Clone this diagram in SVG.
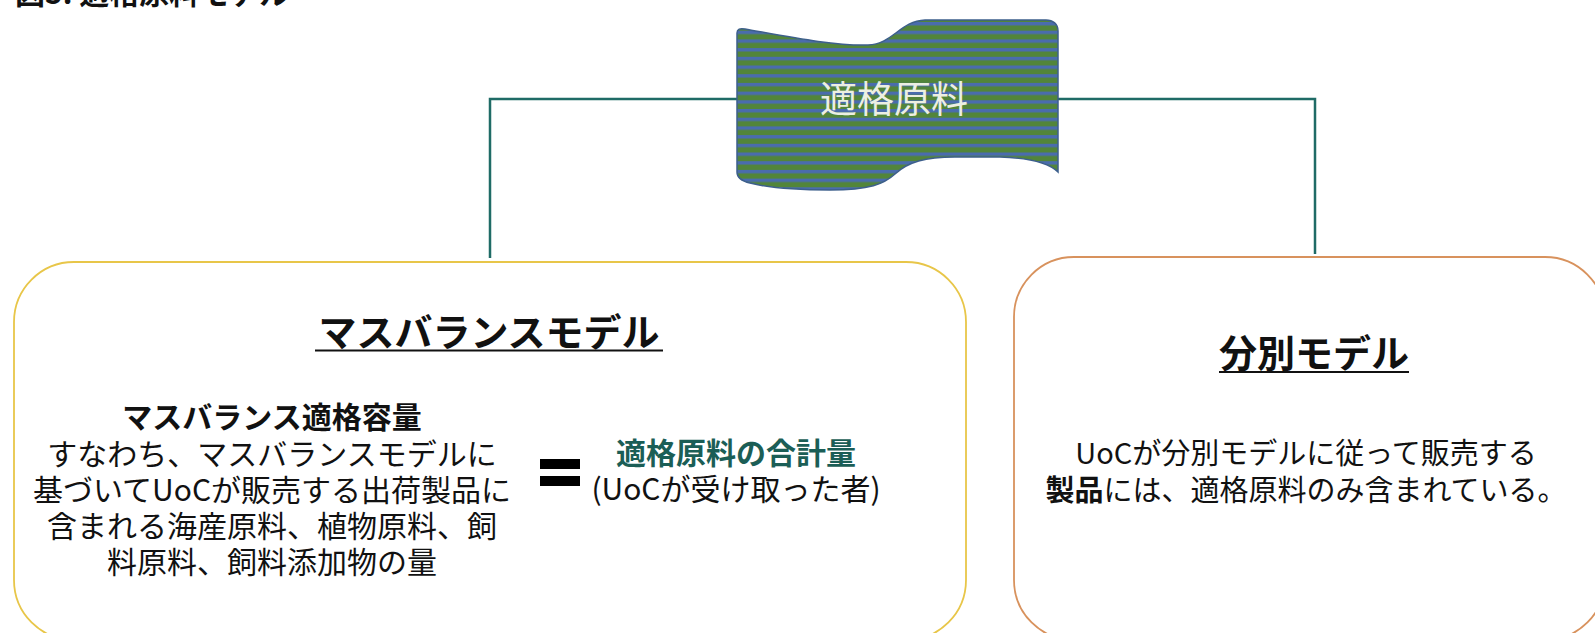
<svg xmlns="http://www.w3.org/2000/svg" width="1595" height="633" viewBox="0 0 1595 633">
<defs>
<pattern id="stripes" x="0" y="22" width="20" height="8.7" patternUnits="userSpaceOnUse">
<rect width="20" height="8.7" fill="#52853a"/>
<rect y="0" width="20" height="3.4" fill="#4a6cae"/>
</pattern>
<style>
text{font-family:"Noto Sans CJK JP","Noto Sans",sans-serif;}
.conn{fill:none;stroke:#1f6b66;stroke-width:2.5;}
.body{font-size:30px;fill:#111;text-anchor:middle;}
.head{font-size:38px;font-weight:bold;fill:#111;text-anchor:middle;}
.ul{stroke:#111;stroke-width:2;}
</style>
</defs>
<rect width="1595" height="633" fill="#fff"/>
<g id="figure-title">
<text x="15" y="4" font-size="30" font-weight="bold" fill="#111">図5: 適格原料モデル</text>
</g>
<g id="connectors">
<path class="conn" d="M737,99 H490 V258"/>
<path class="conn" d="M1058,99 H1315 V254"/>
</g>
<g id="eligible-material">
<path d="M737,33 C737,29 740,28 745,29 C790,37 835,46 868,45 C893,44 900,21 925,20 L1046,20 C1053,20 1058,24 1058,31 L1058,172 C1050,164 1035,158 1000,157 L955,157 C925,157 908,162 895,174 C884,184 870,190 830,190 C795,190 765,187 750,183 C741,181 737,178 737,172 Z" fill="url(#stripes)" stroke="#3d5f8c" stroke-width="1.5"/>
<text x="894" y="113" font-size="37" fill="#ecefe2" text-anchor="middle">適格原料</text>
</g>
<g id="mass-balance-model">
<rect x="14" y="262" width="952" height="378" rx="60" ry="60" fill="#fff" stroke="#e8c649" stroke-width="1.8"/>
<text class="head" x="489" y="346">マスバランスモデル</text>
<line class="ul" x1="315" y1="350.5" x2="663" y2="350.5"/>
<text class="body" x="272" y="428" font-weight="bold">マスバランス適格容量</text>
<text class="body" x="272" y="465">すなわち、マスバランスモデルに</text>
<text class="body" x="272" y="501">基づいてUoCが販売する出荷製品に</text>
<text class="body" x="272" y="537">含まれる海産原料、植物原料、飼</text>
<text class="body" x="272" y="573">料原料、飼料添加物の量</text>
<g id="equals">
<rect x="540" y="459" width="40" height="10" fill="#000"/>
<rect x="540" y="476" width="40" height="10" fill="#000"/>
</g>
<text class="body" x="736" y="464" font-weight="bold" style="fill:#1b5e56">適格原料の合計量</text>
<text class="body" x="736" y="500">(UoCが受け取った者)</text>
</g>
<g id="segregated-model">
<path d="M1074,257 H1545 A60,60 0 0 1 1605,317 V580 A60,60 0 0 1 1545,640 H1074 A60,60 0 0 1 1014,580 V317 A60,60 0 0 1 1074,257 Z" fill="#fff" stroke="#d8925d" stroke-width="1.8"/>
<text class="head" x="1314" y="367">分別モデル</text>
<line class="ul" x1="1219" y1="372" x2="1409" y2="372"/>
<text class="body" x="1306" y="464" style="font-size:29px">UoCが分別モデルに従って販売する</text>
<text class="body" x="1306" y="501" style="font-size:29px"><tspan font-weight="bold">製品</tspan>には、適格原料のみ含まれている。</text>
</g>
</svg>
